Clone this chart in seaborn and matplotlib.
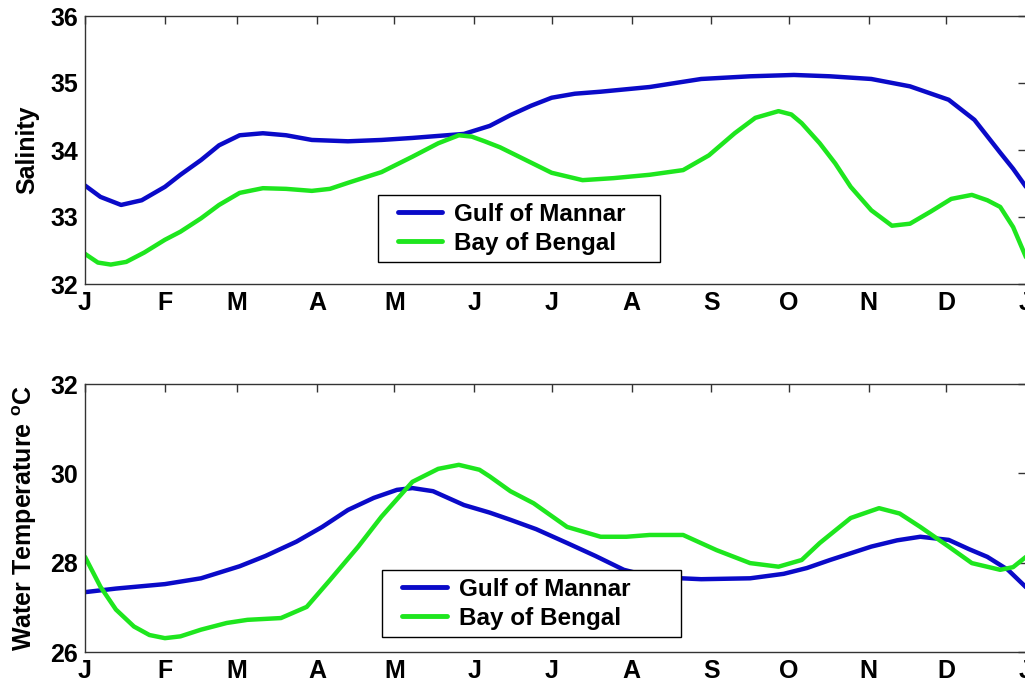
import pandas as pd
import matplotlib
matplotlib.use("Agg")
import matplotlib.pyplot as plt
import seaborn as sns

## Data (x = day of year) ##

month_days = [0, 31, 59, 90, 120, 151, 181, 212, 243, 273, 304, 334, 365]
month_labels = ["J", "F", "M", "A", "M", "J", "J", "A", "S", "O", "N", "D", "J"]

sal_gm_day = [0, 6, 14, 22, 31, 37, 45, 52, 60, 69, 78, 88, 102, 115, 127, 147, 157,
              165, 173, 181, 190, 200, 219, 239, 258, 275, 289, 305, 320, 335, 345,
              355, 360, 365]
sal_gm = [33.47, 33.30, 33.18, 33.25, 33.45, 33.63, 33.85, 34.07, 34.22, 34.25, 34.22,
          34.15, 34.13, 34.15, 34.18, 34.24, 34.36, 34.52, 34.66, 34.78, 34.84, 34.87,
          34.94, 35.06, 35.10, 35.12, 35.10, 35.06, 34.95, 34.75, 34.45, 33.96, 33.72,
          33.45]

sal_bb_day = [0, 5, 10, 16, 23, 31, 37, 45, 52, 60, 69, 78, 88, 95, 102, 115, 127, 137,
              145, 150, 155, 161, 171, 181, 193, 205, 219, 232, 242, 252, 260, 269, 274,
              278, 285, 291, 297, 305, 313, 320, 328, 336, 344, 350, 355, 360, 365]
sal_bb = [32.45, 32.32, 32.29, 32.33, 32.47, 32.66, 32.78, 32.98, 33.18, 33.36, 33.43,
          33.42, 33.39, 33.42, 33.51, 33.67, 33.90, 34.10, 34.22, 34.20, 34.13, 34.04,
          33.85, 33.66, 33.55, 33.58, 33.63, 33.70, 33.92, 34.25, 34.48, 34.58, 34.53,
          34.40, 34.10, 33.80, 33.45, 33.10, 32.87, 32.90, 33.08, 33.27, 33.33, 33.25,
          33.15, 32.85, 32.40]

tmp_gm_day = [0, 12, 31, 45, 60, 70, 82, 92, 102, 112, 121, 127, 135, 147, 157, 165,
              175, 187, 198, 209, 220, 239, 258, 271, 280, 289, 305, 315, 324, 335, 343,
              350, 358, 365]
tmp_gm = [27.34, 27.42, 27.52, 27.65, 27.92, 28.15, 28.47, 28.80, 29.18, 29.45, 29.63,
          29.67, 29.60, 29.29, 29.12, 28.96, 28.75, 28.44, 28.15, 27.84, 27.68, 27.63,
          27.65, 27.75, 27.88, 28.06, 28.36, 28.50, 28.58, 28.51, 28.30, 28.13, 27.84,
          27.45]

tmp_bb_day = [0, 6, 12, 19, 25, 31, 37, 45, 55, 63, 76, 86, 95, 106, 115, 127, 137, 145,
              153, 157, 165, 174, 187, 200, 210, 219, 232, 245, 258, 269, 278, 285, 297,
              308, 316, 324, 335, 344, 355, 360, 365]
tmp_bb = [28.13, 27.46, 26.95, 26.57, 26.38, 26.31, 26.35, 26.50, 26.65, 26.72, 26.76,
          27.01, 27.61, 28.36, 29.03, 29.81, 30.10, 30.19, 30.08, 29.93, 29.60, 29.33,
          28.80, 28.58, 28.58, 28.62, 28.62, 28.28, 27.99, 27.91, 28.06, 28.44, 29.00,
          29.22, 29.10, 28.80, 28.36, 27.99, 27.84, 27.90, 28.13]

sites = ["Gulf of Mannar", "Bay of Bengal"]
colors = {"Gulf of Mannar": "#0a0ac8", "Bay of Bengal": "#1ee61e"}


def long_df(gm_day, gm, bb_day, bb):
    a = pd.DataFrame({"day": gm_day, "value": gm, "site": sites[0]})
    b = pd.DataFrame({"day": bb_day, "value": bb, "site": sites[1]})
    return pd.concat([a, b], ignore_index=True)


sal_df = long_df(sal_gm_day, sal_gm, sal_bb_day, sal_bb)
tmp_df = long_df(tmp_gm_day, tmp_gm, tmp_bb_day, tmp_bb)

## Style ##

sns.set_theme(style="white")
plt.rcParams["font.family"] = ["Liberation Sans", "DejaVu Sans"]
plt.rcParams["font.weight"] = "bold"
plt.rcParams["text.color"] = "black"
plt.rcParams["axes.labelcolor"] = "black"
plt.rcParams["xtick.labelcolor"] = "black"
plt.rcParams["ytick.labelcolor"] = "black"
plt.rcParams["mathtext.fontset"] = "custom"
plt.rcParams["mathtext.bf"] = "Liberation Sans:bold"
plt.rcParams["mathtext.rm"] = "Liberation Sans:bold"

fig = plt.figure(figsize=(10.25, 6.88), dpi=100)
ax1 = fig.add_axes([85 / 1025, 1 - 284 / 688, 941 / 1025, 268 / 688])
ax2 = fig.add_axes([85 / 1025, 1 - 652 / 688, 941 / 1025, 268 / 688])

# (axes, data, ylim, yticks, label, legend box in axes coords)
panels = [
    (ax1, sal_df, (32, 36), [32, 33, 34, 35, 36], "Salinity",
     (0.311, 0.082, 0.300, 0.254)),
    (ax2, tmp_df, (26, 32), [26, 28, 30, 32], r"Water Temperature $^{\mathbf{o}}$C",
     (0.316, 0.056, 0.317, 0.250)),
]

for ax, df, ylim, yticks, ylabel, leg_box in panels:
    sns.lineplot(data=df, x="day", y="value", hue="site", hue_order=sites,
                 palette=colors, estimator=None, linewidth=3.2, ax=ax)
    for line in ax.get_lines():
        line.set_solid_joinstyle("round")
        line.set_solid_capstyle("round")
    ax.set_xlim(0, 365)
    ax.set_ylim(*ylim)
    ax.set_xticks(month_days)
    ax.set_xticklabels(month_labels)
    ax.set_yticks(yticks)
    ax.set_xlabel("")
    ax.set_ylabel(ylabel, fontsize=18, fontweight="bold", labelpad=8)
    ax.tick_params(direction="in", length=6, width=1, top=True, right=True,
                   labelsize=18, pad=5, color="#333333")
    for lab in ax.get_xticklabels() + ax.get_yticklabels():
        lab.set_fontweight("bold")
    for s in ax.spines.values():
        s.set_linewidth(1)
        s.set_color("#333333")
    handles, labels = ax.get_legend_handles_labels()
    leg = ax.legend(handles, labels, loc="lower left", bbox_to_anchor=leg_box,
                    mode="expand", frameon=True, fancybox=False, framealpha=1,
                    edgecolor="black", prop={"size": 17.5, "weight": "bold"},
                    handlelength=2.35, handletextpad=0.5, labelspacing=0.25,
                    borderpad=0.3, borderaxespad=0)
    leg.get_frame().set_linewidth(1)
    for line in leg.get_lines():
        line.set_linewidth(3.5)
        x = list(line.get_xdata())
        y = list(line.get_ydata())
        x0 = x[0] + (x[-1] - x[0]) * 0.22
        line.set_data([x0, x[-1]], [y[0], y[-1]])

fig.savefig("out.png", dpi=100)
